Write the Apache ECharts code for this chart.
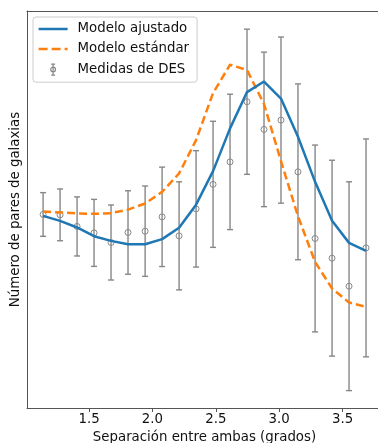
<!DOCTYPE html>
<html>
<head>
<meta charset="utf-8">
<script src="https://cdn.jsdelivr.net/npm/echarts@6/dist/echarts.min.js"></script>
<style>html,body{margin:0;padding:0;background:#fff;}#c{width:378px;height:443px;}</style>
</head>
<body>
<div id="c"></div>
<script>
const separation = [1.137, 1.271, 1.405, 1.539, 1.673, 1.807, 1.942, 2.076, 2.210, 2.344,
                    2.478, 2.612, 2.746, 2.880, 3.014, 3.148, 3.283, 3.417, 3.551, 3.685];
const measured = [48.75, 48.65, 45.73, 44.11, 41.69, 44.21, 44.54, 48.15, 43.36, 50.16,
                  56.34, 61.99, 77.14, 70.18, 72.52, 59.49, 42.70, 37.74, 30.68, 40.33];
const measuredErr = [5.50, 6.52, 7.44, 8.44, 9.45, 10.51, 11.38, 12.52, 13.61, 14.66,
                     15.88, 17.05, 18.28, 19.46, 20.92, 22.15, 23.53, 24.67, 26.30, 27.44];
const fitted = [48.40, 47.14, 45.47, 43.28, 42.10, 41.26, 41.26, 42.53, 45.42, 51.22,
                59.67, 70.43, 79.58, 82.23, 77.94, 68.31, 56.97, 47.14, 41.59, 39.58];
const standard = [49.51, 49.26, 49.00, 48.90, 49.08, 49.96, 51.52, 54.45, 59.09, 67.48,
                  79.33, 86.46, 85.13, 76.56, 62.19, 48.32, 36.80, 30.10, 26.57, 25.46];
const xTicks = [1.5, 2.0, 2.5, 3.0, 3.5];
const names = ['Modelo ajustado', 'Modelo estándar', 'Medidas de DES'];

const FONT = 'DejaVu Sans';
const FS = 13.33;
const GREY = '#878787';
const BLUE = '#1f77b4';
const ORANGE = '#ff7f0e';
const chart = echarts.init(document.getElementById('c'), null, {renderer: 'canvas'});

const zip = (a, b) => a.map((v, i) => [v, b[i]]);
const errData = separation.map((x, i) => [x, measured[i], measuredErr[i]]);

// legend icons: 34x14 box (degenerate corner segments fix the box), drawn part 29 px wide
const BOX = 'M0,0L0,0M34,14L34,14';
const solidIcon = 'path://' + BOX + 'M0,5.75L29,5.75L29,8.25L0,8.25Z';
const dashIcon = 'path://' + BOX + 'M0,5.75L9,5.75L9,8.25L0,8.25Z M13,5.75L22,5.75L22,8.25L13,8.25Z M26,5.75L29,5.75L29,8.25L26,8.25Z';
const errIcon = 'path://' + BOX + 'M14.5,1.5L14.5,12.5M12.5,1.5L16.5,1.5M12.5,12.5L16.5,12.5M14.5,4.6A2.4,2.4 0 1 1 14.5,9.4A2.4,2.4 0 1 1 14.5,4.6';

chart.setOption({
  animation: false,
  textStyle: {fontFamily: FONT, fontSize: FS},
  grid: {left: 27, top: 11, bottom: 35, right: -4, outerBoundsMode: 'none', containLabel: false},
  legend: {
    left: 33, top: 17, orient: 'vertical',
    padding: [5, 8, 5, 5],
    itemWidth: 34, itemHeight: 14, itemGap: 6,
    backgroundColor: 'rgba(255,255,255,0.8)',
    borderColor: '#cccccc', borderWidth: 1, borderRadius: 3,
    textStyle: {fontFamily: FONT, fontSize: FS, color: '#111'},
    data: [
      {name: names[0], icon: solidIcon, itemStyle: {color: BLUE, borderWidth: 0}},
      {name: names[1], icon: dashIcon, itemStyle: {color: ORANGE, borderWidth: 0}},
      {name: names[2], icon: errIcon,
       itemStyle: {color: 'rgba(0,0,0,0)', borderColor: GREY, borderWidth: 1.2}}
    ]
  },
  xAxis: [{
    type: 'value', min: 1.010, max: 3.811,
    name: 'Separación entre ambas (grados)', nameLocation: 'middle', nameGap: 22,
    nameTextStyle: {fontFamily: FONT, fontSize: FS, color: '#111'},
    axisLine: {show: true, lineStyle: {color: '#555', width: 1}},
    axisTick: {show: true, inside: false, length: 4, customValues: xTicks, lineStyle: {color: '#555'}},
    axisLabel: {show: true, margin: 5, customValues: xTicks, fontFamily: FONT, fontSize: FS, color: '#111',
                formatter: v => v.toFixed(1)},
    splitLine: {show: false}
  }, {
    type: 'value', position: 'top', min: 1.010, max: 3.811,
    axisLine: {show: true, onZero: false, lineStyle: {color: '#555', width: 1}},
    axisTick: {show: false}, axisLabel: {show: false}, splitLine: {show: false}
  }],
  yAxis: {
    type: 'value', min: 0, max: 100,
    name: 'Número de pares de galaxias', nameLocation: 'middle', nameGap: 5, nameRotate: 90,
    nameTextStyle: {fontFamily: FONT, fontSize: FS, color: '#111'},
    axisLine: {show: true, lineStyle: {color: '#555', width: 1}},
    axisTick: {show: false}, axisLabel: {show: false}, splitLine: {show: false}
  },
  series: [
    {
      name: names[2], type: 'custom', z: 1, xAxisIndex: 0,
      itemStyle: {color: GREY},
      data: errData,
      renderItem: function (params, api) {
        const x = api.value(0), y = api.value(1), e = api.value(2);
        const t = api.coord([x, y + e]), b = api.coord([x, y - e]), c = api.coord([x, y]);
        const cap = 3;
        const st = {stroke: GREY, lineWidth: 1.4, fill: null};
        return {type: 'group', children: [
          {type: 'line', shape: {x1: t[0], y1: t[1], x2: b[0], y2: b[1]}, style: st},
          {type: 'line', shape: {x1: t[0] - cap, y1: t[1], x2: t[0] + cap, y2: t[1]}, style: st},
          {type: 'line', shape: {x1: b[0] - cap, y1: b[1], x2: b[0] + cap, y2: b[1]}, style: st},
          {type: 'circle', shape: {cx: c[0], cy: c[1], r: 3}, style: {stroke: GREY, lineWidth: 1, fill: 'rgba(255,255,255,0)'}}
        ]};
      }
    },
    {
      name: names[0], type: 'line', z: 3, symbol: 'none', xAxisIndex: 0,
      data: zip(separation, fitted),
      itemStyle: {color: BLUE},
      lineStyle: {color: BLUE, width: 2.5}
    },
    {
      name: names[1], type: 'line', z: 2, symbol: 'none', xAxisIndex: 0,
      data: zip(separation, standard),
      itemStyle: {color: ORANGE},
      lineStyle: {color: ORANGE, width: 2.5, type: [8, 4]}
    }
  ]
});
</script>
</body>
</html>
